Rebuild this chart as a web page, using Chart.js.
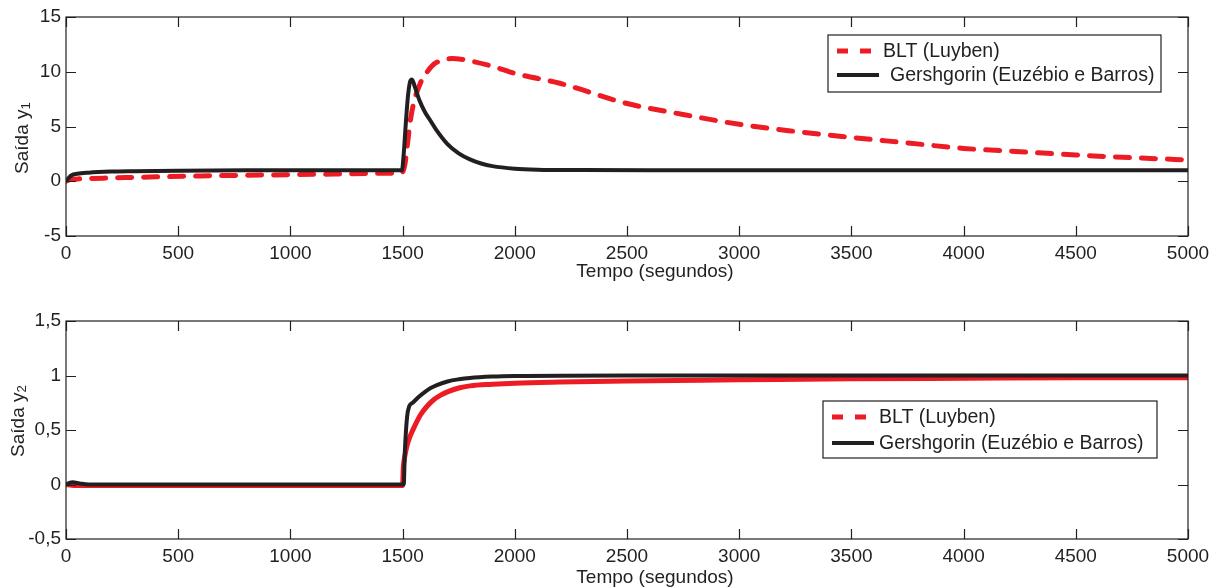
<!DOCTYPE html>
<html lang="pt">
<head>
  <meta charset="UTF-8">
  <title>Saídas y1 e y2 - BLT x Gershgorin</title>
  <script src="https://cdn.jsdelivr.net/npm/chart.js@4"></script>
  <style>
    body { margin: 0; background: #fff; }
    #wrap { position: relative; width: 1222px; height: 587px; font-family: 'Liberation Sans', Arial, sans-serif; color: #231f20; }
    canvas { position: absolute; left: 0; }
    .title { position: absolute; font-size: 19px; white-space: nowrap; transform: translate(-50%, -50%); }
    .ytitle { transform: translate(-50%, -50%) rotate(-90deg); }
    .ytitle sub { font-size: 70%; vertical-align: -2px; }
  </style>
</head>
<body>
<div id="wrap">
  <canvas id="chartY1" width="1222" height="293" style="top:0"></canvas>
  <canvas id="chartY2" width="1222" height="294" style="top:293px"></canvas>

  <div class="title ytitle" style="left:22px; top:138px">Saída y<sub>1</sub></div>
  <div class="title" style="left:655px; top:271px">Tempo (segundos)</div>
  <div class="title ytitle" style="left:18px; top:421px">Saída y<sub>2</sub></div>
  <div class="title" style="left:655px; top:577px">Tempo (segundos)</div>
</div>

<script>
// --- dados ---
const seriesNames = ['BLT (Luyben)', 'Gershgorin (Euzébio e Barros)'];

// saída y1
const timeBltY1 = [0, 10, 30, 60, 100, 200, 400, 600, 800, 1000, 1200, 1400, 1495, 1510, 1520, 1535, 1550, 1580, 1610, 1640,
  1680, 1720, 1760, 1800, 1900, 2000, 2200, 2500, 2750, 3000, 3250, 3500, 3750, 4000, 4250, 4500, 4750, 5000];
const bltY1 = [0, 0.1, 0.18, 0.22, 0.25, 0.3, 0.4, 0.48, 0.55, 0.6, 0.66, 0.72, 0.75, 1.5, 3.1, 5.6, 7.2, 9.0, 10.0, 10.7,
  11.05, 11.2, 11.15, 11.0, 10.5, 9.85, 8.95, 7.1, 6.1, 5.2, 4.55, 4.0, 3.5, 3.0, 2.7, 2.4, 2.15, 1.95];

const timeGershY1 = [0, 10, 25, 50, 100, 200, 300, 500, 800, 1200, 1497, 1505, 1515, 1525, 1535, 1542, 1555, 1575, 1600, 1625,
  1650, 1700, 1750, 1800, 1850, 1900, 2000, 2100, 2300, 2600, 3000, 4000, 5000];
const gershY1 = [0, 0.25, 0.55, 0.68, 0.78, 0.88, 0.92, 0.97, 1.0, 1.0, 1.0, 2.5, 5.5, 8.0, 9.2, 9.3, 8.6, 7.4, 6.3, 5.5,
  4.7, 3.4, 2.55, 2.0, 1.62, 1.38, 1.15, 1.06, 1.02, 1.0, 1.0, 1.0, 1.0];

// saída y2
const timeBltY2 = [0, 50, 1500, 1503, 1510, 1520, 1535, 1550, 1580, 1610, 1640, 1670, 1700, 1750, 1800, 1900, 2000, 2200,
  2500, 3000, 3500, 4000, 4500, 5000];
const bltY2 = [0, -0.01, -0.01, 0.15, 0.26, 0.36, 0.45, 0.52, 0.64, 0.72, 0.78, 0.82, 0.85, 0.885, 0.905, 0.92, 0.93, 0.94,
  0.95, 0.96, 0.97, 0.975, 0.98, 0.98];

const timeGershY2 = [0, 15, 30, 60, 100, 1505, 1510, 1520, 1530, 1545, 1570, 1600, 1625, 1650, 1700, 1750, 1800, 1900, 2000, 2500, 5000];
const gershY2 = [0, 0.015, 0.02, 0.01, 0, 0, 0.3, 0.62, 0.72, 0.75, 0.8, 0.85, 0.885, 0.91, 0.945, 0.965, 0.978, 0.99, 0.995, 1.0, 1.0];

const y1Ticks = { min: -5, max: 15, step: 5 };
const y2Ticks = { min: -0.5, max: 1.5, step: 0.5 };

const RED = '#ed1c24';
const BLACK = '#231f20';

Chart.defaults.font.family = "'Liberation Sans', Arial, sans-serif";
Chart.defaults.font.size = 19;
Chart.defaults.color = BLACK;

function toPoints(t, v) {
  return t.map((x, i) => ({ x: x, y: v[i] }));
}

// moldura com marcas de escala para dentro (estilo MATLAB)
const frameTicks = {
  id: 'frameTicks',
  afterDraw(chart) {
    const ctx = chart.ctx;
    const a = chart.chartArea;
    const len = 10;
    ctx.save();
    ctx.strokeStyle = BLACK;
    ctx.lineWidth = 1.2;
    ctx.beginPath();
    chart.scales.x.ticks.forEach(t => {
      const px = Math.round(chart.scales.x.getPixelForValue(t.value)) + 0.5;
      ctx.moveTo(px, a.bottom); ctx.lineTo(px, a.bottom - len);
      ctx.moveTo(px, a.top); ctx.lineTo(px, a.top + len);
    });
    chart.scales.y.ticks.forEach(t => {
      const py = Math.round(chart.scales.y.getPixelForValue(t.value)) + 0.5;
      ctx.moveTo(a.left, py); ctx.lineTo(a.left + len, py);
      ctx.moveTo(a.right, py); ctx.lineTo(a.right - len, py);
    });
    ctx.stroke();
    ctx.strokeRect(a.left, a.top, a.right - a.left, a.bottom - a.top);
    ctx.restore();
  }
};

// legenda em caixa dentro do gráfico
const legendBox = {
  id: 'legendBox',
  afterDraw(chart, args, opts) {
    const ctx = chart.ctx;
    const [x, y, w, h] = opts.box;
    ctx.save();
    ctx.fillStyle = '#fff';
    ctx.fillRect(x, y, w, h);
    ctx.strokeStyle = BLACK;
    ctx.lineWidth = 1.2;
    ctx.strokeRect(x, y, w, h);
    ctx.font = "19.5px 'Liberation Sans', Arial, sans-serif";
    ctx.textBaseline = 'middle';
    chart.data.datasets.forEach((ds, i) => {
      const ry = y + opts.rows[i];
      ctx.beginPath();
      ctx.strokeStyle = ds.borderColor;
      ctx.lineWidth = ds.borderWidth;
      ctx.setLineDash(opts.dashes[i]);
      ctx.moveTo(x + 9, ry);
      ctx.lineTo(x + 51, ry);
      ctx.stroke();
      ctx.setLineDash([]);
      ctx.fillStyle = BLACK;
      ctx.fillText(ds.label, x + opts.textX[i], ry + 1);
    });
    ctx.restore();
  }
};

function makeChart(id, sets, yt, xAxisHeight, pad, legendOpts) {
  const ctx = document.getElementById(id).getContext('2d');
  return new Chart(ctx, {
    type: 'line',
    data: {
      datasets: [
        {
          label: seriesNames[0],
          data: toPoints(sets[0], sets[1]),
          borderColor: RED,
          borderWidth: 5,
          borderDash: sets[4],
          borderCapStyle: 'round',
          pointRadius: 0,
          cubicInterpolationMode: 'monotone',
          order: 1
        },
        {
          label: seriesNames[1],
          data: toPoints(sets[2], sets[3]),
          borderColor: BLACK,
          borderWidth: 4,
          pointRadius: 0,
          cubicInterpolationMode: 'monotone',
          order: 0
        }
      ]
    },
    options: {
      responsive: false,
      animation: false,
      layout: { padding: pad },
      scales: {
        x: {
          type: 'linear',
          min: 0,
          max: 5000,
          grid: { display: false, drawTicks: false },
          border: { display: false },
          ticks: { stepSize: 500, padding: 6, maxRotation: 0, callback: v => String(v) },
          afterFit: s => { s.height = xAxisHeight; }
        },
        y: {
          min: yt.min,
          max: yt.max,
          grid: { display: false, drawTicks: false },
          border: { display: false },
          ticks: { stepSize: yt.step, padding: 5, callback: v => String(v).replace('.', ',') },
          afterFit: s => { s.width = 66; }
        }
      },
      plugins: {
        legend: { display: false },
        tooltip: { enabled: false },
        legendBox: legendOpts
      }
    },
    plugins: [frameTicks, legendBox]
  });
}

makeChart('chartY1',
  [timeBltY1, bltY1, timeGershY1, gershY1, [14, 12]],
  y1Ticks, 57, { top: 17, right: 34, left: 0, bottom: 0 },
  { box: [828, 35, 333, 57], rows: [16, 40], textX: [55, 62], dashes: [[11, 12], []] });

makeChart('chartY2',
  [timeBltY2, bltY2, timeGershY2, gershY2, []],
  y2Ticks, 48, { top: 28, right: 34, left: 0, bottom: 0 },
  { box: [823, 108, 334, 57], rows: [16, 42], textX: [56, 56], dashes: [[11, 12], []] });
</script>
</body>
</html>
